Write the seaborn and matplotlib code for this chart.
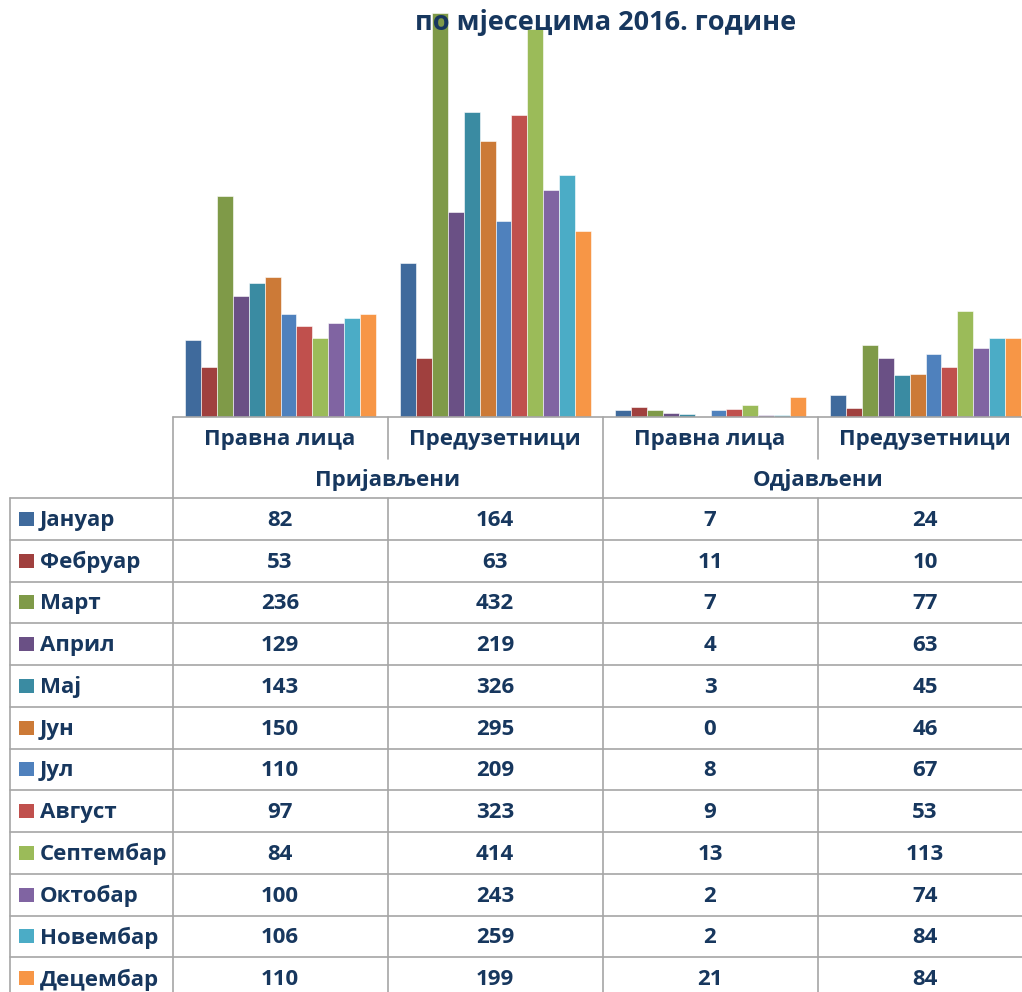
import numpy as np
import pandas as pd
import seaborn as sns
import matplotlib.pyplot as plt
from matplotlib.lines import Line2D
from matplotlib.patches import Rectangle

months = ["Јануар", "Фебруар", "Март", "Април", "Мај", "Јун",
          "Јул", "Август", "Септембар", "Октобар", "Новембар", "Децембар"]
month_colors = ["#3F6A9C", "#A0403E", "#7F9A48", "#6A5085", "#3A8BA2", "#CC7A37",
                "#4F81BD", "#C0504D", "#9BBB59", "#8064A2", "#4BACC6", "#F79646"]
column_labels = ["Правна лица", "Предузетници", "Правна лица", "Предузетници"]
status_labels = ["Пријављени", "Одјављени"]
prijavljeni_pravna = [82, 53, 236, 129, 143, 150, 110, 97, 84, 100, 106, 110]
prijavljeni_preduz = [164, 63, 432, 219, 326, 295, 209, 323, 414, 243, 259, 199]
odjavljeni_pravna = [7, 11, 7, 4, 3, 0, 8, 9, 13, 2, 2, 21]
odjavljeni_preduz = [24, 10, 77, 63, 45, 46, 67, 53, 113, 74, 84, 84]
title = "по мјесецима 2016. године"

series = [prijavljeni_pravna, prijavljeni_preduz, odjavljeni_pravna, odjavljeni_preduz]
keys = ["k%d" % i for i in range(len(series))]
df = pd.DataFrame({
    "kol": np.repeat(keys, len(months)),
    "mjesec": months * len(series),
    "broj": np.concatenate(series),
})

sns.set_theme(style="white")
plt.rcParams["font.family"] = ["Open Sans", "DejaVu Sans"]
navy = "#17375E"
grid = "#A6A6A6"

W, H = 1022, 992
fig = plt.figure(figsize=(W / 100, H / 100), dpi=100)


def fx(x):
    return x / W


def fy(y):
    return 1 - y / H


# chart area: baseline at y=417 px, categories 215 px apart starting at x=173
ax = fig.add_axes([fx(173), fy(417), 860 / W, 417 / H])
sns.barplot(data=df, x="kol", y="broj", hue="mjesec", hue_order=months,
            palette=month_colors, saturation=1, width=0.89, legend=False,
            edgecolor="white", linewidth=0.4, ax=ax)
ax.set_xlim(-0.5, 3.5)
ax.set_ylim(0, 445.5)
ax.set_axis_off()

fig.text(fx(606), fy(23), title, ha="center", va="center", fontsize=19.5,
         fontweight="bold", color=navy)


def hline(y, x0, x1):
    fig.add_artist(Line2D([fx(x0), fx(x1)], [fy(y), fy(y)], color=grid, lw=1.2))


def vline(x, y0, y1):
    fig.add_artist(Line2D([fx(x), fx(x)], [fy(y0), fy(y1)], color=grid, lw=1.2))


row_h = 41.75
top = 498
col_x = [280, 495, 710, 925]

hline(417, 173, W)
hline(top, 10, W)
for i in range(1, len(months)):
    hline(top + i * row_h, 10, W)
vline(10, top, H)
vline(173, 417, H)
vline(388, 417, 459)
vline(818, 417, 459)
vline(388, top, H)
vline(818, top, H)
vline(603, 417, H)

txt = dict(ha="center", va="center", fontsize=16, fontweight="bold", color=navy)
for cx, lab in zip(col_x, column_labels):
    fig.text(fx(cx), fy(440), lab, **txt)
fig.text(fx(388), fy(480), status_labels[0], **txt)
fig.text(fx(818), fy(480), status_labels[1], **txt)

for i, (m, c) in enumerate(zip(months, month_colors)):
    cy = top + i * row_h + row_h / 2
    fig.add_artist(Rectangle((fx(19), fy(cy + 7)), 15 / W, 14 / H,
                             transform=fig.transFigure, facecolor=c, edgecolor="none"))
    fig.text(fx(40), fy(cy + 1.5), m, ha="left", va="center", fontsize=16,
             fontweight="bold", color=navy)
    for cx, vals in zip(col_x, series):
        fig.text(fx(cx), fy(cy + 1.5), str(vals[i]), **txt)

fig.savefig("out.png", dpi=100)
